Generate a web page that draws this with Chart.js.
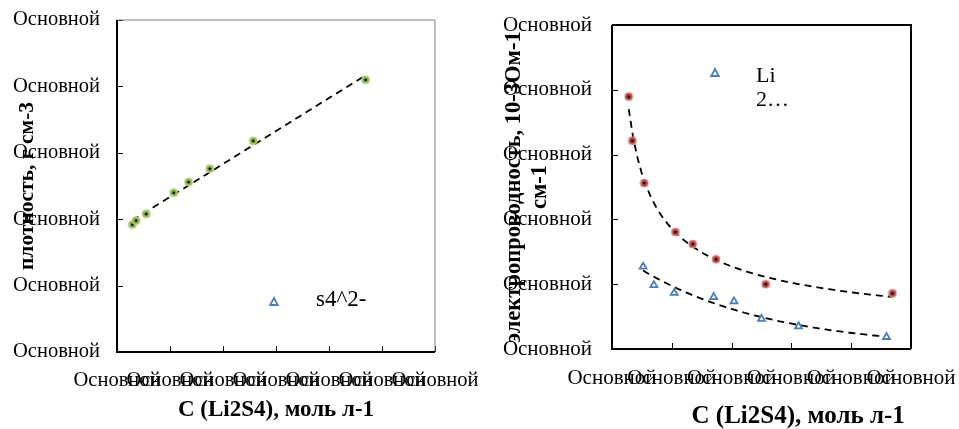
<!DOCTYPE html>
<html>
<head>
<meta charset="utf-8">
<script src="https://cdn.jsdelivr.net/npm/chart.js@4"></script>
<style>
  body { margin: 0; background: #fff; overflow: hidden; }
  #wrap { position: relative; width: 959px; height: 429px; overflow: hidden; }
  canvas { position: absolute; top: 0; }
</style>
</head>
<body>
<div id="wrap">
  <canvas id="left" style="left:0px;width:500px;height:429px" width="500" height="429"></canvas>
  <canvas id="right" style="left:480px;width:500px;height:429px" width="500" height="429"></canvas>
</div>
<script>
// --- data ---
const tickText = "Основной";

// left: density vs C(Li2S4)
const densX = [0.029, 0.036, 0.055, 0.107, 0.135, 0.175, 0.257, 0.469];
const densY = [1.046, 1.049, 1.054, 1.070, 1.078, 1.088, 1.109, 1.155];

// right: conductivity vs C(Li2S4)
const condRedX = [0.028, 0.034, 0.054, 0.106, 0.135, 0.174, 0.257, 0.469];
const condRedY = [7.79, 6.43, 5.12, 3.61, 3.24, 2.77, 2.00, 1.72];
const condBlueX = [0.052, 0.070, 0.104, 0.170, 0.204, 0.250, 0.312, 0.459];
const condBlueY = [2.54, 1.97, 1.73, 1.60, 1.47, 0.93, 0.70, 0.37];

const leftLegend = ["s4^2-"];
const rightLegend = ["Li", "2…"];

const serif = "'Liberation Serif', 'Times New Roman', serif";

// trendlines (excel style least squares)
function lsq(xs, ys) {
  const n = xs.length;
  let sx = 0, sy = 0, sxx = 0, sxy = 0;
  for (let i = 0; i < n; i++) { sx += xs[i]; sy += ys[i]; sxx += xs[i] * xs[i]; sxy += xs[i] * ys[i]; }
  const b = (n * sxy - sx * sy) / (n * sxx - sx * sx);
  return { a: (sy - b * sx) / n, b: b };
}

function sample(xs, f) {
  const x0 = Math.min(...xs), x1 = Math.max(...xs);
  const pts = [];
  for (let i = 0; i <= 60; i++) {
    const x = x0 + (x1 - x0) * i / 60;
    pts.push({ x: x, y: f(x) });
  }
  return pts;
}

function linearFit(xs, ys) {
  const r = lsq(xs, ys);
  return sample(xs, x => r.a + r.b * x);
}

function powerFit(xs, ys) {
  const r = lsq(xs.map(Math.log), ys.map(Math.log));
  return sample(xs, x => Math.exp(r.a) * Math.pow(x, r.b));
}

function expFit(xs, ys) {
  const r = lsq(xs, ys.map(Math.log));
  return sample(xs, x => Math.exp(r.a + r.b * x));
}

function toPoints(xs, ys) {
  return xs.map((x, i) => ({ x: x, y: ys[i] }));
}

// round marker with a black dot in the middle
function dotMarker(fill, edge) {
  const c = document.createElement("canvas");
  c.width = 10; c.height = 10;
  const g = c.getContext("2d");
  g.beginPath(); g.arc(5, 5, 4, 0, Math.PI * 2);
  g.fillStyle = fill; g.fill();
  g.lineWidth = 1; g.strokeStyle = edge; g.stroke();
  g.beginPath(); g.arc(5, 5, 1.5, 0, Math.PI * 2);
  g.fillStyle = "#000"; g.fill();
  return c;
}

function drawTriangle(ctx, x, y) {
  ctx.save();
  ctx.beginPath();
  ctx.moveTo(x, y - 4);
  ctx.lineTo(x + 3.8, y + 3);
  ctx.lineTo(x - 3.8, y + 3);
  ctx.closePath();
  ctx.fillStyle = "#fff";
  ctx.fill();
  ctx.lineWidth = 1.8;
  ctx.strokeStyle = "#4a7ebb";
  ctx.stroke();
  ctx.restore();
}

// frame + inward tick marks + in-plot legend
const framePlugin = {
  id: "frame",
  beforeDatasetsDraw(chart, args, opts) {
    const { ctx, chartArea: a } = chart;
    ctx.save();
    ctx.strokeStyle = "#000";
    ctx.lineWidth = 1;
    const xs = chart.scales.x, ys = chart.scales.y;
    xs.ticks.forEach(t => {
      const px = Math.round(xs.getPixelForValue(t.value)) + 0.5;
      ctx.beginPath(); ctx.moveTo(px, a.bottom); ctx.lineTo(px, a.bottom - 6); ctx.stroke();
    });
    ys.ticks.forEach(t => {
      const py = Math.round(ys.getPixelForValue(t.value)) + 0.5;
      ctx.beginPath(); ctx.moveTo(a.left, py); ctx.lineTo(a.left + 6, py); ctx.stroke();
    });
    // top + right
    ctx.strokeStyle = opts.farColor;
    ctx.lineWidth = opts.farWidth;
    ctx.beginPath();
    ctx.moveTo(a.left, a.top); ctx.lineTo(a.right, a.top); ctx.lineTo(a.right, a.bottom);
    ctx.stroke();
    // left + bottom axes
    ctx.strokeStyle = "#000";
    ctx.lineWidth = 2;
    ctx.beginPath();
    ctx.moveTo(a.left, a.top); ctx.lineTo(a.left, a.bottom); ctx.lineTo(a.right, a.bottom);
    ctx.stroke();
    ctx.restore();
  },
  afterDraw(chart, args, opts) {
    const ctx = chart.ctx;
    const a = chart.chartArea;
    const lx = a.left + opts.legendX, ly = a.top + opts.legendY;
    drawTriangle(ctx, lx, ly);
    ctx.save();
    ctx.fillStyle = "#000";
    ctx.font = opts.legendSize + "px " + serif;
    ctx.textBaseline = "middle";
    opts.legendText.forEach((s, i) => {
      ctx.fillText(s, lx + opts.textDX, ly + opts.textDY + i * 24);
    });
    ctx.restore();
  }
};

function axes(o) {
  return {
    x: {
      type: "linear", min: o.xMin, max: o.xMax,
      afterFit(s) { s.height = o.xHeight; s.paddingLeft = 0; s.paddingRight = 0; s.paddingTop = 0; s.paddingBottom = 0; },
      grid: { display: false, drawTicks: false },
      border: { display: false },
      ticks: {
        stepSize: o.xStep, autoSkip: false, maxRotation: 0, minRotation: 0,
        padding: o.xPad, color: "#000",
        font: { family: serif, size: o.tickSize },
        callback: () => tickText
      },
      title: {
        display: true, text: o.xTitle, align: o.xTitleAlign, color: "#000",
        font: { family: serif, size: o.xTitleSize, weight: "bold", lineHeight: 1.2 },
        padding: { top: 0, bottom: o.xTitlePad }
      }
    },
    y: {
      type: "linear", min: o.yMin, max: o.yMax,
      afterFit(s) { s.width = o.yWidth; s.paddingLeft = 0; s.paddingRight = 0; s.paddingTop = 0; s.paddingBottom = 0; },
      grid: { display: false, drawTicks: false },
      border: { display: false },
      ticks: {
        stepSize: o.yStep, autoSkip: false,
        padding: o.yPad, color: "#000",
        font: { family: serif, size: o.tickSize },
        callback: () => tickText
      },
      title: {
        display: true, text: o.yTitle, color: "#000",
        font: { family: serif, size: o.yTitleSize, weight: "bold", lineHeight: o.yTitleLH },
        padding: { top: o.yTitlePad, bottom: 0 }
      }
    }
  };
}

new Chart(document.getElementById("left"), {
  type: "scatter",
  data: {
    datasets: [
      {
        label: "fit", data: linearFit(densX, densY), showLine: true,
        borderColor: "#000", borderWidth: 1.8, borderDash: [7, 5],
        pointRadius: 0, order: 2
      },
      {
        label: "s4^2-", data: toPoints(densX, densY),
        pointStyle: dotMarker("#9bbb59", "#b5d17a"), pointRadius: 5, order: 1
      }
    ]
  },
  options: {
    responsive: false, animation: false,
    layout: { padding: { top: 20, right: 65, left: 0, bottom: 0 } },
    plugins: {
      legend: { display: false }, tooltip: { enabled: false },
      frame: { farColor: "#7f7f7f", farWidth: 1, legendX: 157, legendY: 282, textDX: 42, textDY: -2, legendSize: 23, legendText: leftLegend }
    },
    scales: axes({
      xMin: 0, xMax: 0.6, xStep: 0.1, xHeight: 77, xPad: 16,
      xTitle: "C (Li2S4), моль л-1", xTitleAlign: "center", xTitleSize: 23, xTitlePad: 5,
      yMin: 0.95, yMax: 1.20, yStep: 0.05, yWidth: 117, yPad: 17, tickSize: 20.5,
      yTitle: "плотность, г см-3", yTitleSize: 21.5, yTitleLH: 1.2, yTitlePad: 15
    })
  },
  plugins: [framePlugin]
});

new Chart(document.getElementById("right"), {
  type: "scatter",
  data: {
    datasets: [
      {
        label: "fit red", data: powerFit(condRedX, condRedY), showLine: true,
        borderColor: "#000", borderWidth: 1.8, borderDash: [7, 5],
        pointRadius: 0, order: 3
      },
      {
        label: "fit blue", data: expFit(condBlueX, condBlueY), showLine: true,
        borderColor: "#000", borderWidth: 1.8, borderDash: [7, 5],
        pointRadius: 0, order: 3
      },
      {
        label: "red", data: toPoints(condRedX, condRedY),
        pointStyle: dotMarker("#c0504d", "#d98b89"), pointRadius: 5, order: 1
      },
      {
        label: "Li 2…", data: toPoints(condBlueX, condBlueY),
        pointStyle: "triangle", pointRadius: 4, pointBorderWidth: 1.8,
        pointBorderColor: "#4a7ebb", pointBackgroundColor: "#fff", order: 1
      }
    ]
  },
  options: {
    responsive: false, animation: false,
    layout: { padding: { top: 25, right: 69, left: 0, bottom: 0 } },
    plugins: {
      legend: { display: false }, tooltip: { enabled: false },
      frame: { farColor: "#000", farWidth: 2, legendX: 103, legendY: 48, textDX: 41, textDY: 3, legendSize: 22, legendText: rightLegend }
    },
    scales: axes({
      xMin: 0, xMax: 0.5, xStep: 0.1, xHeight: 80, xPad: 17,
      xTitle: "C (Li2S4), моль л-1\u00a0", xTitleAlign: "end", xTitleSize: 25, xTitlePad: -3,
      yMin: 0, yMax: 10, yStep: 2, yWidth: 132, yPad: 20, tickSize: 21,
      yTitle: ["электропроводность, 10-3Ом-1", "см-1"], yTitleSize: 22.5, yTitleLH: 1.12, yTitlePad: 22
    })
  },
  plugins: [framePlugin]
});
</script>
</body>
</html>
